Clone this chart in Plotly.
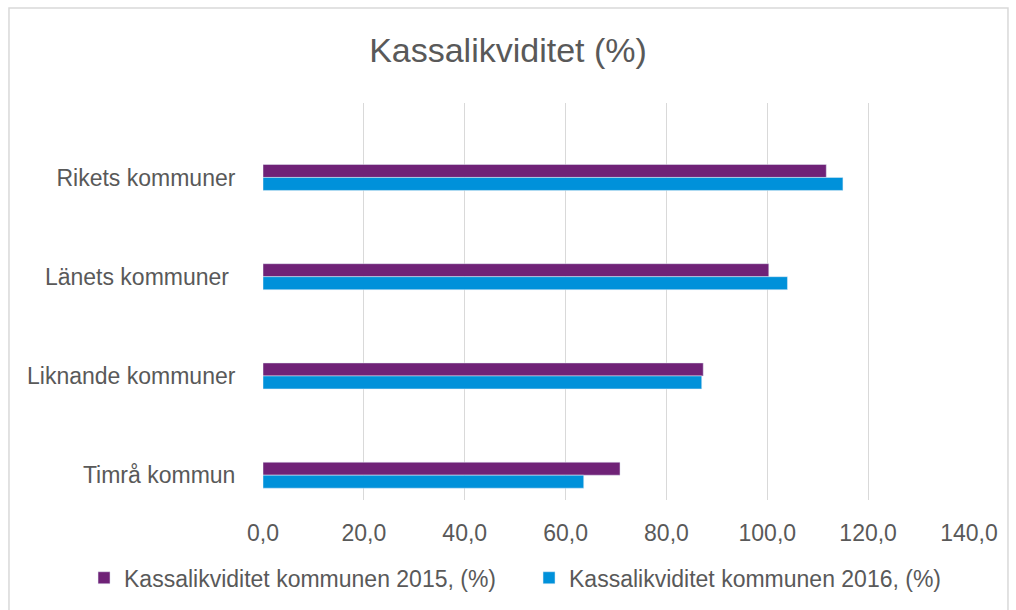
import plotly.graph_objects as go

# Data
categories = ["Timrå kommun", "Liknande kommuner", "Länets kommuner ", "Rikets kommuner"]
values_2015 = [70.8, 87.3, 100.3, 111.7]
values_2016 = [63.6, 87.0, 104.0, 115.0]
tick_vals = [0, 20, 40, 60, 80, 100, 120, 140]
tick_text = ["0,0", "20,0", "40,0", "60,0", "80,0", "100,0", "120,0", "140,0"]

purple = "#6F2277"
blue = "#0091DA"
grey_text = "#595959"
bar_w = 0.131

y_pos = list(range(len(categories)))

fig = go.Figure()

fig.add_trace(go.Bar(
    y=y_pos, x=values_2015, orientation="h",
    name="Kassalikviditet kommunen 2015, (%)",
    marker_color=purple, width=bar_w, offset=0,
))
fig.add_trace(go.Bar(
    y=y_pos, x=values_2016, orientation="h",
    name="Kassalikviditet kommunen 2016, (%)",
    marker_color=blue, width=bar_w, offset=-bar_w,
))

# light grey frame round the whole chart (bottom edge runs off the page)
fig.add_shape(
    type="rect", xref="paper", yref="paper",
    x0=-0.3598, x1=1.0552, y0=-0.29, y1=1.239,
    line=dict(color="#D9D9D9", width=1.5), fillcolor="rgba(0,0,0,0)", layer="below",
)

fig.update_layout(
    width=1016, height=610,
    margin=dict(l=263, r=47, t=103, b=110, autoexpand=False),
    paper_bgcolor="white", plot_bgcolor="white",
    barmode="overlay",
    font=dict(family="Liberation Sans, Arial, sans-serif", color=grey_text, size=23),
    title=dict(
        text="Kassalikviditet (%)", x=0.5, xanchor="center",
        y=1 - 50 / 610, yanchor="middle",
        font=dict(size=34, color=grey_text),
    ),
    xaxis=dict(
        range=[0, 140], tickvals=tick_vals, ticktext=tick_text,
        showgrid=True, gridcolor="#D9D9D9", gridwidth=1.3,
        zeroline=False, showline=False, automargin=False,
        ticks="outside", ticklen=12, tickcolor="rgba(0,0,0,0)",
        fixedrange=True,
    ),
    yaxis=dict(
        range=[-0.25, 3.75], tickvals=y_pos, ticktext=categories,
        showgrid=False, zeroline=False, showline=False, automargin=False,
        ticks="outside", ticklen=22, tickcolor="rgba(0,0,0,0)",
        fixedrange=True,
    ),
    legend=dict(
        orientation="h",
        x=-0.2535, xanchor="left", y=-0.196, yanchor="middle",
        font=dict(size=23, color=grey_text), traceorder="normal",
        itemwidth=30, entrywidth=400, entrywidthmode="pixels",
    ),
    showlegend=True,
)

fig.write_html(
    "out.html",
    config={"displayModeBar": False},
    post_script="document.body.style.margin='0';",
)
